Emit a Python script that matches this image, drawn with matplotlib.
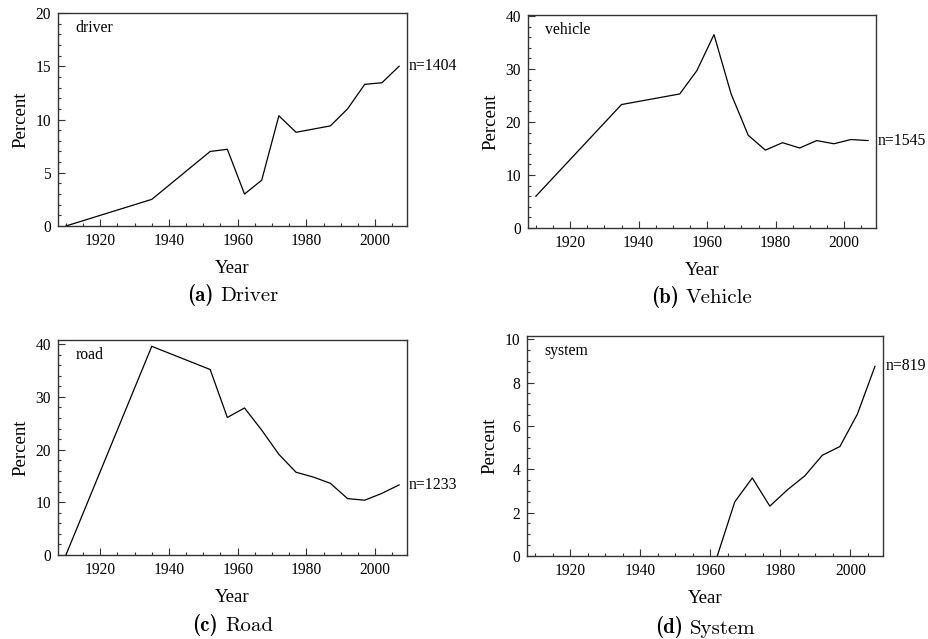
import numpy as np
import matplotlib
matplotlib.use('Agg')
import matplotlib.pyplot as plt
from matplotlib.ticker import MultipleLocator
import matplotlib.transforms as mtransforms
from matplotlib.offsetbox import TextArea, HPacker, AnnotationBbox

plt.rcParams['font.family'] = ['Liberation Serif', 'DejaVu Serif']

years = [1910, 1935, 1952, 1957, 1962, 1967, 1972, 1977, 1982, 1987, 1992, 1997, 2002, 2007]
driver = [0.0, 2.5, 7.0, 7.2, 3.0, 4.3, 10.35, 8.8, 9.1, 9.4, 11.0, 13.3, 13.45, 15.0]
vehicle = [6.0, 23.3, 25.3, 29.7, 36.5, 25.3, 17.5, 14.7, 16.1, 15.1, 16.5, 15.9, 16.7, 16.5]
road = [0.0, 39.6, 35.2, 26.1, 27.9, 23.7, 19.1, 15.7, 14.8, 13.6, 10.7, 10.4, 11.7, 13.3]
system_years = [1962, 1967, 1972, 1977, 1982, 1987, 1992, 1997, 2002, 2007]
system = [0.0, 2.5, 3.6, 2.3, 3.05, 3.7, 4.65, 5.05, 6.55, 8.75]

W, H = 929, 639
fig = plt.figure(figsize=(W / 100, H / 100), dpi=100)

def add_axes(l, r, t, b):
    return fig.add_axes([l / W, 1 - b / H, (r - l) / W, (b - t) / H])

panels = [
    # label, x, y, ymax, major, minor, n, caption, box(l, r, t, b)
    ('driver', years, driver, 20, 5, 1, 'n=1404', '(a)', 'Driver', (58, 407, 13, 226)),
    ('vehicle', years, vehicle, 40.2, 10, 2, 'n=1545', '(b)', 'Vehicle', (528, 876, 15, 228)),
    ('road', years, road, 40.8, 10, 2, 'n=1233', '(c)', 'Road', (58, 407, 340, 555)),
    ('system', system_years, system, 10.15, 2, 0.5, 'n=819', '(d)', 'System', (527, 883, 336, 556)),
]

for name, x, y, ymax, major, minor, n, letter, cap, box in panels:
    ax = add_axes(*box)
    ax.plot(x, y, color='black', linewidth=0.9)
    ax.set_xlim(1907.7, 2009.3)
    ax.set_ylim(0, ymax)
    ax.xaxis.set_major_locator(MultipleLocator(20))
    ax.xaxis.set_minor_locator(MultipleLocator(5))
    ax.yaxis.set_major_locator(MultipleLocator(major))
    ax.yaxis.set_minor_locator(MultipleLocator(minor))
    ax.tick_params(which='both', direction='in', top=False, right=False,
                   labelsize=11.2, color='#333333')
    ax.tick_params(which='major', length=5, width=0.8, pad=5)
    ax.tick_params(which='minor', length=2.5, width=0.8)
    for s in ax.spines.values():
        s.set_color('#333333')
        s.set_linewidth(1.0)
    ax.set_xlabel('Year', fontsize=13.5, labelpad=8)
    ax.set_ylabel('Percent', fontsize=13.5, labelpad=4)
    ax.text(0.05, 0.93, name, transform=ax.transAxes, fontsize=11.3,
            va='center', ha='left')
    trans = mtransforms.blended_transform_factory(ax.transAxes, ax.transData)
    ax.text(1.006, y[-1], n, transform=trans, fontsize=11.3, va='center', ha='left')

    t1 = TextArea(letter, textprops=dict(family='cmb10', size=15))
    t2 = TextArea(cap, textprops=dict(family='cmr10', size=15))
    pack = HPacker(children=[t1, t2], pad=0, sep=5, align='baseline')
    ab = AnnotationBbox(pack, (0.5, -0.325), xycoords='axes fraction',
                        frameon=False, box_alignment=(0.5, 0.5))
    ax.add_artist(ab)

fig.savefig('out.png', dpi=100)
